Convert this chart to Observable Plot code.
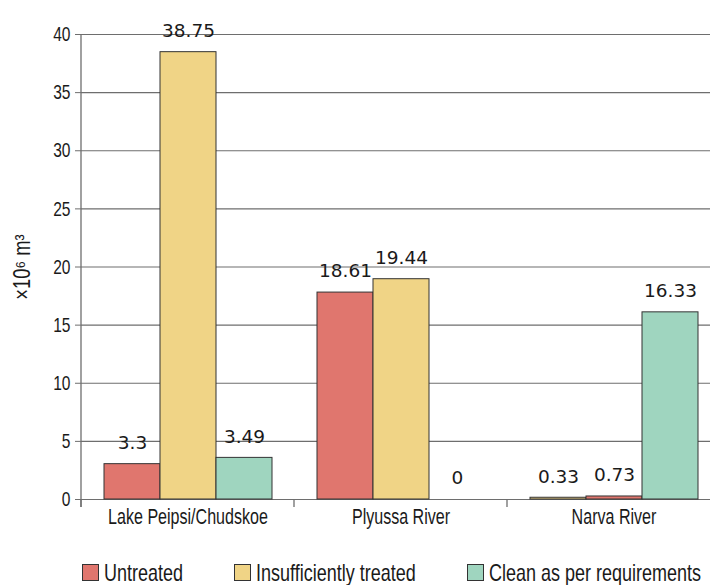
<!DOCTYPE html>
<html>
<head>
<meta charset="utf-8">
<script src="https://cdn.jsdelivr.net/npm/d3@7"></script>
<script src="https://cdn.jsdelivr.net/npm/@observablehq/plot@0.6"></script>
<style>
  html, body { margin: 0; padding: 0; background: white; }
  #legend { display: flex; align-items: flex-end; height: 40px; padding-left: 82px; box-sizing: border-box;
    font-family: 'Liberation Sans', Arial, sans-serif; font-size: 24px; color: #1a1a1a; }
  .item { display: flex; align-items: flex-end; }
  .sw { width: 17px; height: 17px; box-sizing: border-box; border: 1.3px solid #333; margin-right: 5px; margin-bottom: 4px; flex: none; }
  .lt { display: inline-block; line-height: 24px; white-space: nowrap; transform: scaleX(0.75); transform-origin: 0 50%; }
</style>
</head>
<body>
<div id="chart"></div>
<div id="legend"></div>
<script>
const sites = ["Lake Peipsi/Chudskoe", "Plyussa River", "Narva River"];
const seriesNames = ["Untreated", "Insufficiently treated", "Clean as per requirements"];
const seriesColors = ["#E0766E", "#F0D486", "#9FD5BF"];
// series shown in each slot of a group (as drawn in the picture)
const slotSeries = [[0, 1, 2], [0, 1, 2], [1, 0, 2]];
// bar heights as drawn
const barValues = [[3.04, 38.48, 3.58], [17.8, 18.95, 0], [0.15, 0.26, 16.1]];
// value labels as printed
const barLabels = [["3.3", "38.75", "3.49"], ["18.61", "19.44", "0"], ["0.33", "0.73", "16.33"]];
const yTicks = [0, 5, 10, 15, 20, 25, 30, 35, 40];
const yLabel = "×10⁶ m³";

const legendNarrow = 0.75;
const sans = "'Liberation Sans', Arial, sans-serif";

const rows = sites.flatMap((site, i) => [0, 1, 2].map(j => ({
  site, slot: String(j), series: seriesNames[slotSeries[i][j]],
  value: barValues[i][j], label: barLabels[i][j]
})));

const plot = Plot.plot({
  width: 710, height: 545,
  marginLeft: 80, marginRight: -10, marginTop: 34, marginBottom: 46,
  fx: {domain: sites, padding: 0, label: null},
  x: {domain: ["0", "1", "2"], paddingInner: 0, paddingOuter: 0.371, axis: null},
  y: {domain: [0, 40], axis: null},
  color: {domain: seriesNames, range: seriesColors},
  style: {fontFamily: sans, color: "#1a1a1a", background: "white", overflow: "hidden"},
  marks: [
    Plot.gridY(yTicks, {stroke: "#6e6e6e", strokeOpacity: 1, strokeWidth: 1.2}),
    Plot.axisY(yTicks, {anchor: "left", tickSize: 6, tickPadding: 5, fontSize: 21, stroke: "#6e6e6e",
      label: yLabel, labelAnchor: "center", labelOffset: 68, labelArrow: "none"}),
    Plot.axisFx({anchor: "bottom", tickSize: 0, tickPadding: 9, fontSize: 22, label: null}),
    Plot.barY(rows.filter(d => d.value > 0), {fx: "site", x: "slot", y: "value", fill: "series",
      stroke: "#333", strokeWidth: 1}),
    Plot.text(rows, {fx: "site", x: "slot", y: "value", text: "label", dy: -21,
      fontSize: 18.5, fontFamily: "DejaVu Sans", fill: "#1a1a1a"})
  ]
});

// axis line and category boundary ticks, placed with the plot's own scales
const fx = plot.scale("fx"), y = plot.scale("y");
const svg = d3.select(plot);
const y0 = y.apply(0), yTop = y.apply(40);
const x0 = fx.apply(sites[0]);
const g = svg.append("g").attr("stroke", "#6e6e6e").attr("stroke-width", 1.3);
g.append("line").attr("x1", x0).attr("x2", x0).attr("y1", yTop).attr("y2", y0 + 8);
sites.forEach(s => {
  const xs = fx.apply(s);
  g.append("line").attr("x1", xs).attr("x2", xs).attr("y1", y0).attr("y2", y0 + 8);
});

document.getElementById("chart").appendChild(plot);

// condense axis texts horizontally (the reference uses a condensed face)
function condense(selector, k, size) {
  svg.selectAll(selector).each(function() {
    if (size) this.setAttribute("font-size", size);
    const len = this.getComputedTextLength();
    if (len > 0) {
      this.setAttribute("textLength", len * k);
      this.setAttribute("lengthAdjust", "spacingAndGlyphs");
    }
  });
}
condense('g[aria-label="y-axis tick label"] text', 0.74);
condense('g[aria-label="fx-axis tick label"] text', 0.73);
condense('g[aria-label="y-axis label"] text', 0.8, 23);

const legend = document.getElementById("legend");
seriesNames.forEach((name, i) => {
  const item = document.createElement("div");
  item.className = "item";
  const sw = document.createElement("div");
  sw.className = "sw";
  sw.style.background = seriesColors[i];
  const lt = document.createElement("span");
  lt.className = "lt";
  lt.textContent = name;
  item.appendChild(sw);
  item.appendChild(lt);
  legend.appendChild(item);
  const w = lt.offsetWidth;
  item.style.marginRight = (51 - w * (1 - legendNarrow)) + "px";
});
</script>
</body>
</html>
